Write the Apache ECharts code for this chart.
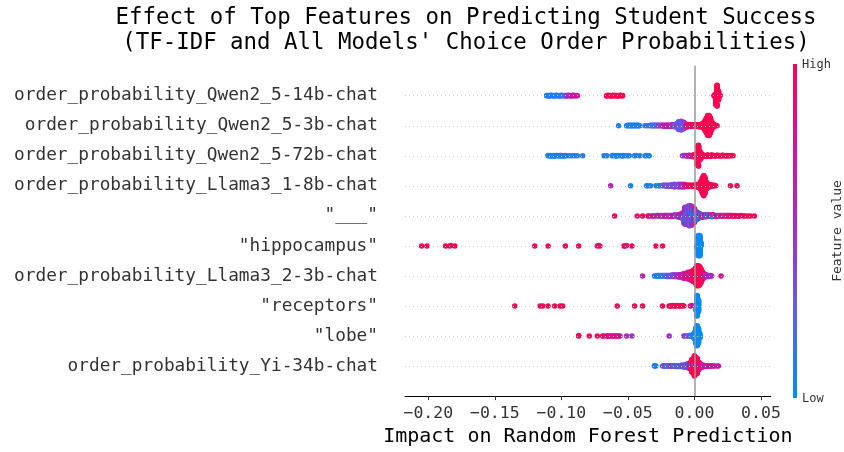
<!DOCTYPE html>
<html><head><meta charset="utf-8">
<script src="https://cdn.jsdelivr.net/npm/echarts@6/dist/echarts.min.js"></script>
<style>html,body{margin:0;padding:0;background:#fff}#c{width:844px;height:452px}</style>
</head><body><div id="c"></div>
<script>
// features, top to bottom
const features = [
  'order_probability_Qwen2_5-14b-chat',
  'order_probability_Qwen2_5-3b-chat',
  'order_probability_Qwen2_5-72b-chat',
  'order_probability_Llama3_1-8b-chat',
  '"___"',
  '"hippocampus"',
  'order_probability_Llama3_2-3b-chat',
  '"receptors"',
  '"lobe"',
  'order_probability_Yi-34b-chat'
];
const xTicks = [-0.2, -0.15, -0.1, -0.05, 0, 0.05];
const titleLines = ['Effect of Top Features on Predicting Student Success', "(TF-IDF and All Models' Choice Order Probabilities)"];
const xLabel = 'Impact on Random Forest Prediction';
const cbarLabels = ['High', 'Low', 'Feature value'];

// each entry: [shap value, feature value (0=low,1=high), number of samples]
const qwen14 = [
  [-0.111,0.05,2],[-0.110,0.05,2],[-0.109,0.1,2],[-0.108,0.05,2],[-0.107,0.1,2],[-0.106,0.05,2],[-0.105,0.15,2],[-0.104,0.05,2],
  [-0.103,0.05,2],[-0.102,0.1,2],[-0.101,0.05,2],[-0.100,0.2,2],[-0.099,0.1,2],[-0.098,0.3,2],[-0.097,0.1,2],[-0.096,0.55,2],
  [-0.095,0.5,2],[-0.094,0.65,2],[-0.093,0.6,2],[-0.092,0.7,2],[-0.091,0.75,2],[-0.090,0.7,2],[-0.089,0.8,1],[-0.088,0.75,1],
  [-0.066,1,2],[-0.065,0.95,2],[-0.064,1,2],[-0.063,1,2],[-0.062,1,2],[-0.061,1,2],[-0.060,1,2],[-0.059,1,2],[-0.058,1,2],
  [-0.057,1,2],[-0.056,1,2],[-0.055,1,2],[-0.054,1,2],
  [0.015,1,6],[0.016,1,30],[0.017,1,40],[0.018,1,30],[0.019,1,4]
];
const qwen3 = [
  [-0.057,0.05,1],
  [-0.051,0.05,1],[-0.050,0.05,2],[-0.049,0.1,2],[-0.048,0.05,2],[-0.047,0.05,2],[-0.046,0.1,2],[-0.045,0.05,2],[-0.044,0.05,2],
  [-0.043,0.1,2],[-0.042,0.05,2],[-0.041,0.05,1],[-0.037,0.1,1],[-0.035,0.15,1],
  [-0.033,0.1,2],[-0.032,0.2,2],[-0.031,0.1,2],[-0.030,0.15,2],[-0.029,0.3,2],[-0.028,0.2,2],[-0.027,0.45,2],[-0.026,0.55,2],
  [-0.025,0.3,2],[-0.024,0.6,2],[-0.023,0.7,3],[-0.022,0.5,3],[-0.021,0.75,3],[-0.020,0.65,3],[-0.019,0.8,3],[-0.018,0.6,3],
  [-0.017,0.4,4],[-0.016,0.7,4],[-0.015,0.35,5],[-0.014,0.25,6],[-0.013,0.45,8],[-0.012,0.3,12],[-0.011,0.2,14],[-0.010,0.35,14],
  [-0.009,0.1,12],[-0.008,0.5,10],[-0.007,0.3,8],[-0.006,0.8,6],[-0.005,0.85,5],[-0.004,0.9,4],[-0.003,0.95,4],[-0.002,1,4],
  [-0.001,0.9,4],[0.000,1,4],[0.001,1,4],[0.002,1,4],[0.003,1,5],[0.004,1,5],[0.005,1,6],[0.006,1,8],[0.007,1,12],[0.008,1,20],
  [0.009,1,30],[0.010,1,40],[0.011,1,40],[0.012,1,30],[0.013,1,16],[0.014,1,8],[0.015,1,4],[0.016,1,2],[0.017,1,1],
  [-0.012,0.7,4],[-0.010,0.8,4],[-0.008,0.1,4]
];
const qwen72 = [
  [-0.110,0.05,2],[-0.109,0.05,1],[-0.108,0.05,2],[-0.107,0.05,1],[-0.106,0.05,2],[-0.105,0.05,2],[-0.104,0.05,1],[-0.103,0.05,2],
  [-0.102,0.05,1],[-0.101,0.05,2],[-0.100,0.05,2],[-0.099,0.05,1],[-0.098,0.05,2],[-0.097,0.05,1],[-0.096,0.05,1],[-0.094,0.05,1],
  [-0.092,0.05,1],[-0.090,0.05,1],[-0.088,0.05,1],[-0.084,0.05,1],
  [-0.068,0.05,1],[-0.066,0.05,1],[-0.062,0.05,1],[-0.061,0.05,1],[-0.059,0.05,2],[-0.058,0.05,1],[-0.057,0.05,1],[-0.055,0.05,1],
  [-0.054,0.05,2],[-0.052,0.05,1],[-0.050,0.05,1],[-0.049,0.05,1],
  [-0.045,0.05,1],[-0.044,0.05,1],[-0.041,0.05,1],[-0.037,0.05,1],[-0.036,0.05,1],[-0.034,0.05,1],
  [-0.009,0.45,1],[-0.008,0.4,1],[-0.007,0.45,2],[-0.006,0.5,2],[-0.005,0.55,2],[-0.004,0.6,2],[-0.003,0.7,3],[-0.002,0.8,3],
  [-0.001,0.85,4],[0.000,0.9,5],[0.001,1,12],[0.002,1,30],[0.003,1,40],[0.004,1,30],[0.005,1,12],[0.006,1,4],[0.007,1,3],
  [0.008,1,3],[0.009,1,3],[0.010,1,3],[0.011,1,3],[0.012,1,3],[0.013,1,3],[0.014,1,2],[0.015,1,2],[0.016,1,2],[0.017,1,2],
  [0.018,1,2],[0.019,1,2],[0.020,1,2],[0.021,1,2],[0.022,1,2],[0.023,1,1],[0.024,1,2],[0.025,1,1],[0.026,1,1],[0.027,1,1],
  [0.028,1,1],[0.029,1,1]
];
const llama8 = [
  [-0.063,0.6,1],[-0.048,0.05,1],[-0.036,0.05,1],[-0.035,0.05,1],[-0.033,0.1,1],[-0.029,0.05,1],[-0.027,0.1,1],[-0.026,0.05,1],
  [-0.024,0.2,2],[-0.023,0.3,2],[-0.022,0.4,2],[-0.021,0.35,3],[-0.020,0.3,3],[-0.019,0.4,3],[-0.018,0.35,3],[-0.017,0.3,4],
  [-0.016,0.4,4],[-0.015,0.35,4],[-0.014,0.5,4],[-0.013,0.4,4],[-0.012,0.3,4],[-0.011,0.45,4],[-0.010,0.6,4],[-0.009,0.4,4],
  [-0.008,0.7,4],[-0.007,0.8,4],[-0.006,0.85,3],[-0.005,0.9,3],[-0.004,0.95,3],[-0.003,1,3],[-0.002,0.9,3],[-0.001,1,3],
  [0.000,1,3],[0.001,1,4],[0.002,1,5],[0.003,1,7],[0.004,1,10],[0.005,1,18],[0.006,1,32],[0.007,1,40],[0.008,1,30],[0.009,1,14],
  [0.010,1,8],[0.011,1,5],[0.012,1,4],[0.013,1,3],[0.014,1,2],[0.015,1,2],[0.016,1,1],[0.027,1,1],[0.032,1,1],
  [-0.015,0.1,2],[-0.012,0.05,2],[-0.010,0.15,2],[-0.008,0.1,2]
];
const blank = [
  [-0.060,1,1],[-0.043,0.9,1],[-0.039,1,1],[-0.035,0.95,1],[-0.034,0.8,1],[-0.032,1,1],[-0.031,0.6,1],[-0.030,0.9,1],
  [-0.029,0.1,1],[-0.028,1,1],[-0.027,0.7,2],[-0.026,0.5,1],[-0.025,0.9,2],[-0.024,0.2,1],[-0.023,0.8,2],[-0.022,0.6,2],
  [-0.021,0.9,2],[-0.020,0.5,2],[-0.019,0.7,3],[-0.018,0.3,2],[-0.017,0.8,3],[-0.016,0.6,3],[-0.015,0.7,4],[-0.014,0.5,4],
  [-0.013,0.2,5],[-0.012,0.65,6],[-0.011,0.8,7],[-0.010,0.55,10],[-0.009,0.6,14],[-0.008,0.1,18],[-0.007,0.7,24],[-0.006,0.55,30],
  [-0.005,0.05,36],[-0.004,0.6,40],[-0.003,0.1,40],[-0.002,0.65,36],[-0.001,0.05,30],[0.000,0.7,26],[0.001,0.1,22],[0.002,0.8,18],
  [0.003,0.1,14],[0.004,0.75,10],[0.005,0.1,8],[0.006,0.85,7],[0.007,0.05,6],[0.008,0.9,5],[0.009,0.1,5],[0.010,0.8,4],
  [0.011,0.05,4],[0.012,1,4],[0.013,0.1,3],[0.014,0.9,3],[0.015,0.2,3],[0.016,1,3],[0.017,0.6,3],[0.018,0.9,2],[0.019,0.1,2],
  [0.020,1,2],[0.021,0.8,2],[0.022,1,2],[0.023,0.3,2],[0.024,0.9,2],[0.025,1,2],[0.026,0.7,2],[0.027,1,2],[0.028,0.9,2],
  [0.029,1,1],[0.030,0.8,2],[0.031,1,1],[0.032,1,1],[0.033,0.9,1],[0.034,1,1],[0.035,1,1],[0.037,1,1],[0.038,0.9,1],
  [0.040,1,1],[0.042,1,1],[0.045,1,1],
  [-0.006,0.1,10],[-0.004,0.05,10],[-0.002,0.1,10],[0.000,0.05,8],[-0.003,0.8,8],[-0.005,0.75,8]
];
const hippocampus = [
  [-0.205,1,1],[-0.201,1,1],[-0.187,1,1],[-0.184,1,1],[-0.183,1,1],[-0.180,1,1],[-0.120,1,1],[-0.110,1,1],[-0.097,1,1],
  [-0.087,1,1],[-0.073,0.75,1],[-0.072,0.85,1],[-0.071,1,1],[-0.053,1,1],[-0.052,1,1],[-0.051,0.9,1],[-0.047,1,1],
  [-0.029,1,1],[-0.024,1,1],[0.002,0,6],[0.003,0,40],[0.004,0,40],[0.005,0,6]
];
const llama3 = [
  [-0.039,0.6,1],[-0.030,0.05,1],[-0.029,0.05,1],[-0.028,0.1,2],[-0.027,0.05,2],[-0.026,0.05,2],[-0.025,0.1,2],[-0.024,0.2,2],
  [-0.023,0.05,2],[-0.022,0.3,2],[-0.021,0.1,3],[-0.020,0.4,3],[-0.019,0.2,3],[-0.018,0.5,3],[-0.017,0.1,4],[-0.016,0.45,4],
  [-0.015,0.3,4],[-0.014,0.6,4],[-0.013,0.4,4],[-0.012,0.7,5],[-0.011,0.5,5],[-0.010,0.65,6],[-0.009,0.8,6],[-0.008,0.6,7],
  [-0.007,0.75,8],[-0.006,0.9,8],[-0.005,0.7,9],[-0.004,1,10],[-0.003,0.8,12],[-0.002,1,14],[-0.001,0.9,18],[0.000,1,24],
  [0.001,1,32],[0.002,1,40],[0.003,1,40],[0.004,1,36],[0.005,1,26],[0.006,0.9,16],[0.007,1,10],[0.008,0.7,6],[0.009,0.6,4],
  [0.010,0.55,3],[0.011,0.6,3],[0.012,0.5,2],[0.013,0.55,1],[0.020,0.75,1],
  [-0.008,0.1,4],[-0.005,0.05,5],[-0.003,0.1,5],[-0.001,0.5,5]
];
const receptors = [
  [-0.135,1,1],[-0.116,1,1],[-0.114,1,1],[-0.110,1,1],[-0.105,1,1],[-0.101,1,1],[-0.099,1,1],[-0.058,1,1],[-0.045,1,1],
  [-0.039,1,1],[-0.024,1,1],[-0.019,1,1],[-0.018,1,1],[-0.017,1,1],[-0.016,1,1],[-0.015,1,1],[-0.014,1,1],[-0.013,1,1],
  [-0.012,1,1],[-0.011,1,1],[-0.010,1,1],[-0.009,1,1],[-0.008,1,1],[-0.003,0.9,1],[-0.002,0.8,1],
  [0.001,0,10],[0.002,0,40],[0.003,0,30]
];
const lobe = [
  [-0.087,1,2],[-0.079,1,1],[-0.073,1,1],[-0.069,1,1],[-0.068,0.95,1],[-0.066,0.8,1],[-0.065,1,1],[-0.064,0.7,1],
  [-0.063,0.9,1],[-0.062,0.75,1],[-0.061,0.65,1],[-0.060,0.9,1],[-0.059,0.7,1],[-0.058,1,1],[-0.057,0.6,1],[-0.056,0.8,1],
  [-0.051,0.55,1],[-0.047,0.5,1],[-0.019,0.5,1],[-0.008,0.45,1],[-0.007,0.4,1],[-0.005,0.3,1],[-0.004,0.35,2],[-0.003,0.2,2],
  [-0.002,0.1,3],[-0.001,0,6],[0.000,0,14],[0.001,0,30],[0.002,0,40],[0.003,0,30],[0.004,0,10]
];
const yi34 = [
  [-0.030,0.05,2],[-0.029,0.05,1],[-0.024,0.4,1],[-0.023,0.1,2],[-0.022,0.5,2],[-0.021,0.1,2],[-0.020,0.3,2],[-0.019,0.05,2],
  [-0.018,0.45,2],[-0.017,1,2],[-0.016,0.1,2],[-0.015,0.35,2],[-0.014,0.05,3],[-0.013,0.5,3],[-0.012,0.1,3],[-0.011,0.4,3],
  [-0.010,0.05,4],[-0.009,0.6,4],[-0.008,0.1,5],[-0.007,0.5,6],[-0.006,0.05,8],[-0.005,0.8,10],[-0.004,0.1,12],[-0.003,0.9,16],
  [-0.002,1,22],[-0.001,1,32],[0.000,1,40],[0.001,1,40],[0.002,1,32],[0.003,1,20],[0.004,0.9,12],[0.005,0.7,8],[0.006,1,5],
  [0.007,0.6,4],[0.008,0.8,3],[0.009,0.5,3],[0.010,0.75,2],[0.011,0.6,2],[0.012,0.8,2],[0.013,0.7,2],[0.014,0.65,1],
  [0.015,0.75,1],[0.017,0.7,1],[0.018,0.75,1],
  [-0.002,0.1,8],[0.000,0.05,8],[0.002,0.4,4]
];
const rows = [qwen14, qwen3, qwen72, llama8, blank, hippocampus, llama3, receptors, lobe, yi34];

const cmap = ['#008bfb', '#5a63ee', '#a22fcb', '#d2129e', '#ff0052'];
const MONO = '"DejaVu Sans Mono", monospace';

// SHAP-style beeswarm vertical layout
function swarm(entries, pos) {
  const pts = [];
  entries.forEach((e, k) => { for (let i = 0; i < e[2]; i++) pts.push({x: e[0], f: e[1], k: k, i: i}); });
  let mn = Infinity, mx = -Infinity;
  pts.forEach(p => { mn = Math.min(mn, p.x); mx = Math.max(mx, p.x); });
  const nb = 100;
  pts.forEach(p => { p.q = Math.round(nb * (p.x - mn) / (mx - mn + 1e-8)); });
  pts.sort((a, b) => a.q - b.q || a.i - b.i || a.k - b.k);
  let layer = 0, last = -1, maxy = 0;
  pts.forEach(p => {
    if (p.q !== last) layer = 0;
    p.y = Math.ceil(layer / 2) * ((layer % 2) * 2 - 1);
    layer++; last = p.q;
    maxy = Math.max(maxy, p.y + 1);
  });
  const s = 0.9 * 0.4 / maxy;
  return pts.map(p => [p.x, pos + p.y * s, p.f]);
}

const n = features.length;
let points = [];
rows.forEach((r, i) => { points = points.concat(swarm(r, n - 1 - i)); });
const positions = features.map((f, i) => n - 1 - i);

const chart = echarts.init(document.getElementById('c'), null, {renderer: 'canvas'});
chart.setOption({
  animation: false,
  backgroundColor: '#fff',
  grid: {left: 405, right: 73.3, top: 65.7, bottom: 53, containLabel: false},
  xAxis: {
    type: 'value', min: -0.2175, max: 0.0573,
    axisLine: {show: true, onZero: false, lineStyle: {color: '#000', width: 1}},
    axisTick: {show: true, customValues: xTicks, length: 4, lineStyle: {color: '#333'}},
    axisLabel: {customValues: xTicks, margin: 9, color: '#333', fontFamily: MONO, fontSize: 16.5,
      formatter: v => (v < -1e-9 ? '\u2212' : '') + Math.abs(v).toFixed(2)},
    splitLine: {show: false},
    name: xLabel, nameLocation: 'middle', nameGap: 30,
    nameTextStyle: {fontFamily: MONO, fontSize: 20, color: '#000'}
  },
  yAxis: {
    type: 'value', min: -1, max: n,
    axisLine: {show: false}, axisTick: {show: false}, splitLine: {show: false},
    axisLabel: {customValues: positions, margin: 27, color: '#333', fontFamily: MONO, fontSize: 17.8,
      padding: [4, 0, 0, 0],
      formatter: v => features[n - 1 - Math.round(v)]}
  },
  visualMap: {show: false, type: 'continuous', dimension: 2, min: 0, max: 1, seriesIndex: 1,
    inRange: {color: cmap}},
  series: [
    {type: 'scatter', data: [], z: 1, silent: true,
      markLine: {silent: true, symbol: 'none', label: {show: false}, animation: false,
        data: positions.map(p => ({yAxis: p, lineStyle: {color: '#cccccc', type: [1, 3], width: 1}}))
          .concat([{xAxis: 0, lineStyle: {color: '#999999', type: 'solid', width: 1.5}}])}},
    {type: 'scatter', data: points, symbolSize: 5.5, z: 2, itemStyle: {opacity: 1}}
  ],
  graphic: [
    {type: 'text', x: 466, y: 18, style: {text: titleLines[0], font: '22.4px ' + MONO, fill: '#000', textAlign: 'center', textVerticalAlign: 'middle'}},
    {type: 'text', x: 466, y: 43, style: {text: titleLines[1], font: '22.4px ' + MONO, fill: '#000', textAlign: 'center', textVerticalAlign: 'middle'}},
    {type: 'rect', shape: {x: 793, y: 64, width: 4, height: 334},
      style: {fill: new echarts.graphic.LinearGradient(0, 1, 0, 0, cmap.map((c, i) => ({offset: i / (cmap.length - 1), color: c})))}},
    {type: 'text', x: 802, y: 65, style: {text: cbarLabels[0], font: '12px ' + MONO, fill: '#333', textVerticalAlign: 'middle'}},
    {type: 'text', x: 802, y: 399, style: {text: cbarLabels[1], font: '12px ' + MONO, fill: '#333', textVerticalAlign: 'middle'}},
    {type: 'text', x: 838, y: 231, rotation: Math.PI / 2, style: {text: cbarLabels[2], font: '13px ' + MONO, fill: '#333', textAlign: 'center', textVerticalAlign: 'middle'}}
  ]
});
</script>
</body></html>
